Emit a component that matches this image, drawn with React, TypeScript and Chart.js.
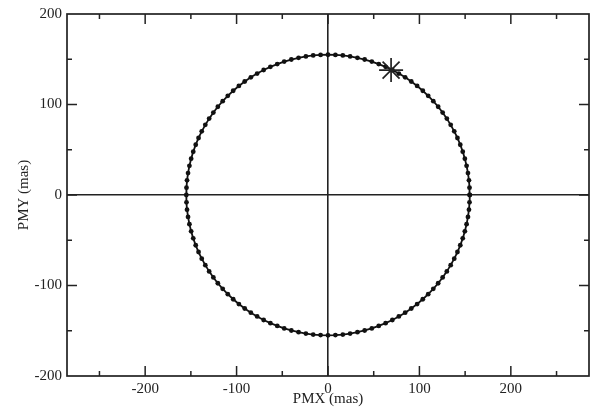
import React, { useEffect, useRef } from "react";
import { Chart, registerables } from "chart.js";

Chart.register(...registerables);

// Polar-motion circle (PMX, PMY in mas)
const pmx: number[] = [
  155, 154.8, 154.2, 153.1, 151.6, 149.7, 147.4, 144.7, 141.6, 138.1, 134.2, 130.0, 125.4, 120.5, 115.2, 109.6, 103.7, 97.5, 91.1, 84.4, 77.5, 70.4, 63.0, 55.5, 47.9, 40.1, 32.2, 24.2, 16.2, 8.1,
  0, -8.1, -16.2, -24.2, -32.2, -40.1, -47.9, -55.5, -63.0, -70.4, -77.5, -84.4, -91.1, -97.5, -103.7, -109.6, -115.2, -120.5, -125.4, -130.0, -134.2, -138.1, -141.6, -144.7, -147.4, -149.7, -151.6, -153.1, -154.2, -154.8,
  -155, -154.8, -154.2, -153.1, -151.6, -149.7, -147.4, -144.7, -141.6, -138.1, -134.2, -130.0, -125.4, -120.5, -115.2, -109.6, -103.7, -97.5, -91.1, -84.4, -77.5, -70.4, -63.0, -55.5, -47.9, -40.1, -32.2, -24.2, -16.2, -8.1,
  0, 8.1, 16.2, 24.2, 32.2, 40.1, 47.9, 55.5, 63.0, 70.4, 77.5, 84.4, 91.1, 97.5, 103.7, 109.6, 115.2, 120.5, 125.4, 130.0, 134.2, 138.1, 141.6, 144.7, 147.4, 149.7, 151.6, 153.1, 154.2, 154.8,
  155,
];
const pmy: number[] = [
  0, 8.1, 16.2, 24.2, 32.2, 40.1, 47.9, 55.5, 63.0, 70.4, 77.5, 84.4, 91.1, 97.5, 103.7, 109.6, 115.2, 120.5, 125.4, 130.0, 134.2, 138.1, 141.6, 144.7, 147.4, 149.7, 151.6, 153.1, 154.2, 154.8,
  155, 154.8, 154.2, 153.1, 151.6, 149.7, 147.4, 144.7, 141.6, 138.1, 134.2, 130.0, 125.4, 120.5, 115.2, 109.6, 103.7, 97.5, 91.1, 84.4, 77.5, 70.4, 63.0, 55.5, 47.9, 40.1, 32.2, 24.2, 16.2, 8.1,
  0, -8.1, -16.2, -24.2, -32.2, -40.1, -47.9, -55.5, -63.0, -70.4, -77.5, -84.4, -91.1, -97.5, -103.7, -109.6, -115.2, -120.5, -125.4, -130.0, -134.2, -138.1, -141.6, -144.7, -147.4, -149.7, -151.6, -153.1, -154.2, -154.8,
  -155, -154.8, -154.2, -153.1, -151.6, -149.7, -147.4, -144.7, -141.6, -138.1, -134.2, -130.0, -125.4, -120.5, -115.2, -109.6, -103.7, -97.5, -91.1, -84.4, -77.5, -70.4, -63.0, -55.5, -47.9, -40.1, -32.2, -24.2, -16.2, -8.1,
  0,
];
const starX: number[] = [69];
const starY: number[] = [138];

const xTicks: number[] = [-250, -200, -150, -100, -50, 0, 50, 100, 150, 200, 250];
const xLabeled: number[] = [-200, -100, 0, 100, 200];
const yTicks: number[] = [-200, -150, -100, -50, 0, 50, 100, 150, 200];
const yLabeled: number[] = [-200, -100, 0, 100, 200];
const xMin = -285.5;
const xMax = 285.5;
const yMin = -200;
const yMax = 200;

const INK = "#222";
const FONT = "'Liberation Serif', 'Times New Roman', serif";

const framePlugin = {
  id: "frameTicks",
  afterDatasetsDraw(chart: any) {
    const { ctx, chartArea: a, scales } = chart;
    const xs = scales.x;
    const ys = scales.y;
    ctx.save();
    ctx.strokeStyle = INK;
    ctx.lineWidth = 1.7;
    ctx.strokeRect(a.left, a.top, a.right - a.left, a.bottom - a.top);
    ctx.lineWidth = 1.5;
    ctx.beginPath();
    xTicks.forEach((v) => {
      const p = xs.getPixelForValue(v);
      const len = v % 100 === 0 ? 10 : 5;
      ctx.moveTo(p, a.bottom);
      ctx.lineTo(p, a.bottom - len);
      ctx.moveTo(p, a.top);
      ctx.lineTo(p, a.top + len);
    });
    yTicks.forEach((v) => {
      if (v === yMin || v === yMax) return;
      const p = ys.getPixelForValue(v);
      const len = v % 100 === 0 ? 10 : 5;
      ctx.moveTo(a.left, p);
      ctx.lineTo(a.left + len, p);
      ctx.moveTo(a.right, p);
      ctx.lineTo(a.right - len, p);
    });
    ctx.stroke();
    ctx.restore();
  },
};

export default function App() {
  const ref = useRef<HTMLCanvasElement | null>(null);
  useEffect(() => {
    if (!ref.current) return;
    const circle = pmx.map((x, i) => ({ x, y: pmy[i] }));
    const star = starX.map((x, i) => ({ x, y: starY[i] }));
    const chart = new Chart(ref.current, {
      type: "scatter",
      data: {
        datasets: [
          {
            data: circle,
            showLine: true,
            borderColor: "#111",
            borderWidth: 1.8,
            pointRadius: 2.4,
            pointBackgroundColor: "#111",
            pointBorderWidth: 0,
            order: 2,
          },
          {
            data: star,
            pointStyle: "star",
            pointRadius: 12,
            borderColor: "#222",
            pointBorderColor: "#222",
            pointBorderWidth: 1.7,
            order: 1,
          },
        ],
      },
      plugins: [framePlugin],
      options: {
        animation: false,
        responsive: false,
        devicePixelRatio: 1,
        layout: { padding: { top: 11, right: 14, left: 0, bottom: 0 } },
        plugins: { legend: { display: false }, tooltip: { enabled: false } },
        scales: {
          x: {
            type: "linear",
            min: xMin,
            max: xMax,
            afterBuildTicks: (s: any) => {
              s.ticks = xTicks.map((v) => ({ value: v }));
            },
            afterFit: (s: any) => {
              s.height = 39;
            },
            grid: {
              drawTicks: false,
              color: (c: any) => (c.tick && c.tick.value === 0 ? INK : "rgba(0,0,0,0)"),
              lineWidth: 1.6,
            },
            border: { display: false },
            ticks: {
              autoSkip: false,
              maxRotation: 0,
              padding: 4,
              color: INK,
              font: { family: FONT, size: 15 },
              callback: (v: any) => (xLabeled.includes(Number(v)) ? String(v) : ""),
            },
            title: {
              display: true,
              text: "PMX (mas)",
              color: INK,
              font: { family: FONT, size: 15 },
              padding: { top: 0, bottom: 7 },
            },
          },
          y: {
            type: "linear",
            min: yMin,
            max: yMax,
            afterBuildTicks: (s: any) => {
              s.ticks = yTicks.map((v) => ({ value: v }));
            },
            afterFit: (s: any) => {
              s.width = 67;
            },
            grid: {
              drawTicks: false,
              color: (c: any) => (c.tick && c.tick.value === 0 ? INK : "rgba(0,0,0,0)"),
              lineWidth: 1.6,
            },
            border: { display: false },
            ticks: {
              autoSkip: false,
              padding: 5,
              color: INK,
              font: { family: FONT, size: 15 },
              callback: (v: any) => (yLabeled.includes(Number(v)) ? String(v) : ""),
            },
            title: {
              display: true,
              text: "PMY (mas)",
              color: INK,
              font: { family: FONT, size: 15 },
              padding: { top: 15, bottom: 0 },
            },
          },
        },
      },
    } as any);
    return () => chart.destroy();
  }, []);
  return (
    <div style={{ position: "absolute", left: 0, top: 0, width: 603, height: 415, background: "#fff" }}>
      <canvas ref={ref} width={603} height={415} style={{ display: "block" }} />
    </div>
  );
}
